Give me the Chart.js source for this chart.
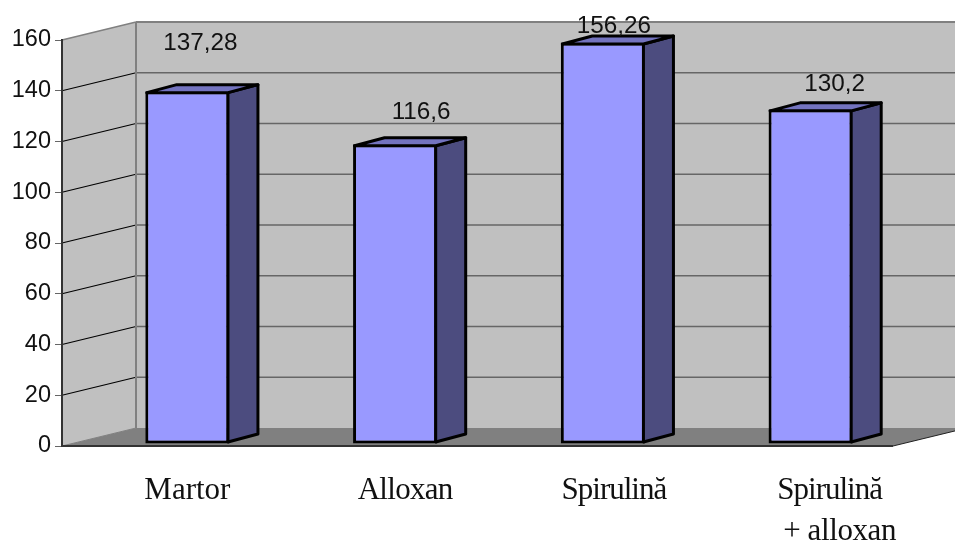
<!DOCTYPE html>
<html lang="en">
<head>
  <meta charset="UTF-8">
  <title>Spirulina alloxan chart</title>
  <script src="https://cdn.jsdelivr.net/npm/chart.js"></script>
  <style>
    html, body { margin: 0; padding: 0; background: #fff; }
    #wrap { width: 955px; height: 543px; }
  </style>
</head>
<body>
  <div id="wrap"><canvas id="barChart" width="955" height="543"></canvas></div>

  <script>
    const categories = [['Martor'], ['Alloxan'], ['Spirulină'], ['Spirulină', '+ alloxan']];
    const values = [137.28, 116.6, 156.26, 130.2];
    const valueLabels = ['137,28', '116,6', '156,26', '130,2'];
    const yTicks = [0, 20, 40, 60, 80, 100, 120, 140, 160];

    // hand-placed text, relative to the bar it belongs to
    const valueLabelShift = [[13, -47.5], [26, -32], [11, -16.5], [24, -25]];
    const categoryShift = [[0], [10], [11], [19, 29]];
    const categorySpacing = [[0], [-0.7], [-1], [-1, -0.4]];

    const wallDepth = { x: 74, y: -18 };
    const barDepth = { x: 30, y: -8 };
    const barShiftX = 21.5;

    const box3d = {
      id: 'box3d',
      // walls and floor sit behind the axes
      beforeDraw(chart) {
        const { ctx, chartArea: a, scales } = chart;
        const d = wallDepth;
        const w = chart.width;
        ctx.save();

        ctx.fillStyle = '#c0c0c0';
        ctx.fillRect(a.left + d.x, a.top + d.y, w, a.bottom - a.top);
        ctx.beginPath();
        ctx.moveTo(a.left, a.top);
        ctx.lineTo(a.left + d.x, a.top + d.y);
        ctx.lineTo(a.left + d.x, a.bottom + d.y);
        ctx.lineTo(a.left, a.bottom);
        ctx.closePath();
        ctx.fill();

        ctx.fillStyle = '#808080';
        ctx.beginPath();
        ctx.moveTo(a.left, a.bottom);
        ctx.lineTo(a.right, a.bottom);
        ctx.lineTo(a.right + d.x, a.bottom + d.y);
        ctx.lineTo(a.left + d.x, a.bottom + d.y);
        ctx.closePath();
        ctx.fill();

        yTicks.forEach(v => {
          if (v === 0) return;
          const y = scales.y.getPixelForValue(v);
          const top = v === yTicks[yTicks.length - 1];
          ctx.lineWidth = top ? 1.5 : 1.2;
          ctx.strokeStyle = top ? '#808080' : '#000';
          ctx.beginPath();
          ctx.moveTo(a.left, y);
          ctx.lineTo(a.left + d.x, y + d.y);
          ctx.stroke();
          ctx.lineWidth = top ? 2 : 1.6;
          ctx.strokeStyle = top ? '#808080' : '#666';
          ctx.beginPath();
          ctx.moveTo(a.left + d.x, y + d.y);
          ctx.lineTo(w, y + d.y);
          ctx.stroke();
        });

        // back corner and floor edges
        ctx.strokeStyle = '#808080';
        ctx.lineWidth = 2;
        ctx.beginPath();
        ctx.moveTo(a.left + d.x, a.top + d.y);
        ctx.lineTo(a.left + d.x, a.bottom + d.y);
        ctx.stroke();
        ctx.lineWidth = 1;
        ctx.beginPath();
        ctx.moveTo(a.left, a.bottom);
        ctx.lineTo(a.left + d.x, a.bottom + d.y);
        ctx.stroke();

        ctx.strokeStyle = '#333';
        ctx.lineWidth = 2;
        ctx.beginPath();
        ctx.moveTo(a.left, a.bottom);
        ctx.lineTo(a.right, a.bottom);
        ctx.stroke();
        ctx.strokeStyle = '#222';
        ctx.lineWidth = 1;
        ctx.beginPath();
        ctx.moveTo(a.right, a.bottom);
        ctx.lineTo(a.right + d.x, a.bottom + d.y);
        ctx.stroke();
        ctx.restore();
      },
      beforeDatasetsDraw(chart) {
        chart.ctx.save();
        chart.ctx.translate(barShiftX, 0);
      },
      // side and top faces of each bar, then the text
      afterDatasetsDraw(chart) {
        const { ctx } = chart;
        const d = barDepth;
        const bw = chart.data.datasets[0].borderWidth;
        chart.getDatasetMeta(0).data.forEach(bar => {
          const left = bar.x - bar.width / 2 + bw / 2;
          const right = bar.x + bar.width / 2 - bw / 2;
          const top = bar.y + bw / 2;
          const bottom = bar.base - bw / 2;
          ctx.lineWidth = bw;
          ctx.strokeStyle = '#000';
          ctx.lineJoin = 'round';
          ctx.fillStyle = '#4c4c7f';
          ctx.beginPath();
          ctx.moveTo(right, top);
          ctx.lineTo(right + d.x, top + d.y);
          ctx.lineTo(right + d.x, bottom + d.y);
          ctx.lineTo(right, bottom);
          ctx.closePath();
          ctx.fill();
          ctx.stroke();
          ctx.fillStyle = '#7373bf';
          ctx.beginPath();
          ctx.moveTo(left, top);
          ctx.lineTo(left + d.x, top + d.y);
          ctx.lineTo(right + d.x, top + d.y);
          ctx.lineTo(right, top);
          ctx.closePath();
          ctx.fill();
          ctx.stroke();
        });
        const bars = chart.getDatasetMeta(0).data;
        ctx.fillStyle = '#111';
        ctx.textAlign = 'center';
        ctx.textBaseline = 'middle';
        ctx.font = '24.3px "Liberation Sans", Arial, sans-serif';
        bars.forEach((bar, i) => {
          ctx.fillText(valueLabels[i], bar.x + valueLabelShift[i][0], bar.y + valueLabelShift[i][1]);
        });
        ctx.textBaseline = 'alphabetic';
        ctx.font = '31px "Liberation Serif", "Times New Roman", serif';
        categories.forEach((lines, i) => {
          lines.forEach((line, j) => {
            ctx.letterSpacing = categorySpacing[i][j] + 'px';
            ctx.fillText(line, bars[i].x + categoryShift[i][j], 499 + j * 41);
          });
        });
        ctx.restore();
      }
    };

    new Chart(document.getElementById('barChart'), {
      type: 'bar',
      data: {
        labels: categories.map(c => c.join(' ')),
        datasets: [{
          data: values,
          yAxisID: 'yBars',
          backgroundColor: '#9999ff',
          borderColor: '#000',
          borderWidth: 3,
          borderSkipped: false,
          categoryPercentage: 1,
          barPercentage: 0.405,
          clip: false
        }]
      },
      options: {
        responsive: false,
        animation: false,
        layout: { padding: { top: 40, right: 62, bottom: 97, left: 0 } },
        plugins: { legend: { display: false }, tooltip: { enabled: false } },
        scales: {
          x: { display: false },
          y: {
            min: 0,
            max: 160,
            afterFit: s => { s.width = 62; },
            afterBuildTicks: s => { s.ticks = yTicks.map(v => ({ value: v })); },
            grid: { drawOnChartArea: false, color: '#666', tickLength: 7 },
            border: { color: '#333', width: 2 },
            ticks: {
              color: '#111',
              padding: 4,
              font: { family: '"Liberation Sans", Arial, sans-serif', size: 23.5 }
            }
          },
          // bars stand a little inside the floor, so they get their own baseline
          yBars: { display: false, min: -1, max: 157.22 }
        }
      },
      plugins: [box3d]
    });
  </script>
</body>
</html>
